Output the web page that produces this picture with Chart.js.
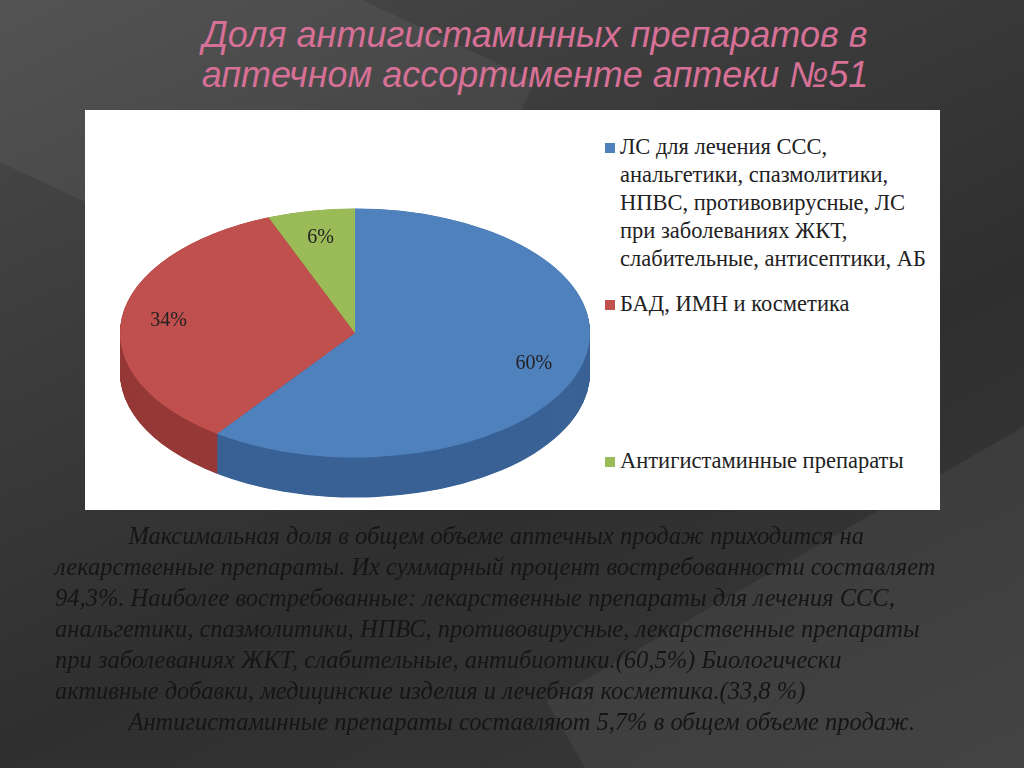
<!DOCTYPE html>
<html><head><meta charset="utf-8">
<script src="https://cdn.jsdelivr.net/npm/chart.js@4"></script>
<style>
body{margin:0;width:1024px;height:768px;overflow:hidden;position:relative;
 background:linear-gradient(155deg,#4a4a4a 0%,#3c3c3c 30%,#2f2f2f 60%,#3a3a3a 100%);font-family:"Liberation Serif",serif}
.shape{position:absolute;background:rgba(255,255,255,0.05)}
h1{position:absolute;left:0;width:1070px;top:15px;margin:0;text-align:center;font:italic 36px/40px "Liberation Sans",Arial,sans-serif;color:#d77096}
#box{position:absolute;left:85px;top:110px;width:855px;height:400px;background:#fff}
#wrap{position:absolute;left:115px;top:93px;width:480px;height:480px}
#legend{position:absolute;left:605px;top:133px;width:340px;font:22.5px/28px "Liberation Serif",serif;color:#222}
.item{position:absolute;left:0;padding-left:15px;white-space:nowrap}
.sw{position:absolute;left:0;top:10px;width:10px;height:10px}
#text{position:absolute;left:55px;top:520px;width:980px;font:italic 24.5px/31px "Liberation Serif",serif;color:#151515;white-space:nowrap}
</style></head><body>
<div class="shape" style="left:-100px;top:-60px;width:600px;height:300px;transform:rotate(25deg)"></div>
<div class="shape" style="left:600px;top:500px;width:700px;height:400px;transform:rotate(-30deg)"></div>
<h1>Доля антигистаминных препаратов в<br>аптечном ассортименте аптеки №51</h1>
<div id="box"></div>
<div id="wrap"><canvas id="c" width="480" height="480"></canvas></div>
<div id="legend"></div>
<div id="text">&nbsp;&nbsp;&nbsp;&nbsp;&nbsp;&nbsp;&nbsp;&nbsp;&nbsp;&nbsp;&nbsp;&nbsp;Максимальная доля в общем объеме аптечных продаж приходится на<br>лекарственные препараты. Их суммарный процент востребованности составляет<br>94,3%. Наиболее востребованные: лекарственные препараты для лечения ССС,<br>анальгетики, спазмолитики, НПВС, противовирусные, лекарственные препараты<br>при заболеваниях ЖКТ, слабительные, антибиотики.(60,5%) Биологически<br>активные добавки, медицинские изделия и лечебная косметика.(33,8 %)<br>&nbsp;&nbsp;&nbsp;&nbsp;&nbsp;&nbsp;&nbsp;&nbsp;&nbsp;&nbsp;&nbsp;&nbsp;Антигистаминные препараты составляют 5,7% в общем объеме продаж.</div>
<script>
const categories = [
  ["ЛС для лечения ССС,", "анальгетики, спазмолитики,", "НПВС, противовирусные, ЛС", "при заболеваниях ЖКТ,", "слабительные, антисептики, АБ"],
  ["БАД, ИМН и косметика"],
  ["Антигистаминные препараты"]
];
const values = [60, 34, 6];
const valueLabels = ["60%", "34%", "6%"];
const colors = ["#4f81bd", "#c0504d", "#9bbb59"];
const sideColors = ["#3a6296", "#963a38", "#76923f"];

// html legend
const legendTops = [0, 157, 314];
const lg = document.getElementById("legend");
categories.forEach((c, i) => {
  lg.innerHTML += '<div class="item" style="top:' + legendTops[i] + 'px"><div class="sw" style="background:' + colors[i] + '"></div>' + c.join("<br>") + '</div>';
});

const SY = 0.53, DEPTH = 40;
const pie3d = {
  id: "pie3d",
  beforeDatasetsDraw(chart) {
    const ctx = chart.ctx, meta = chart.getDatasetMeta(0);
    const cx = meta.data[0].x, cy = meta.data[0].y;
    ctx.save();
    ctx.translate(cx, cy); ctx.scale(1, SY); ctx.translate(-cx, -cy);
    for (let d = DEPTH / SY; d > 0; d -= 1) {
      ctx.save(); ctx.translate(0, d);
      meta.data.forEach((el, i) => {
        const o = el.options.backgroundColor, b = el.options.borderWidth;
        el.options.backgroundColor = sideColors[i]; el.options.borderWidth = 0;
        el.draw(ctx);
        el.options.backgroundColor = o; el.options.borderWidth = b;
      });
      ctx.restore();
    }
    meta.data.forEach(el => el.draw(ctx));
    ctx.restore();
    // labels
    ctx.font = "20px 'Liberation Serif', serif";
    ctx.fillStyle = "#222"; ctx.textAlign = "center"; ctx.textBaseline = "middle";
    const fr = [0.8, 0.8, 0.78];
    meta.data.forEach((el, i) => {
      const a = (el.startAngle + el.endAngle) / 2;
      ctx.fillText(valueLabels[i], cx + Math.cos(a) * el.outerRadius * fr[i], cy + Math.sin(a) * el.outerRadius * fr[i] * SY);
    });
    return false;
  }
};

new Chart(document.getElementById("c"), {
  type: "pie",
  data: { labels: categories.map(c => c.join(" ")), datasets: [{ data: values, backgroundColor: colors, borderWidth: 0 }] },
  options: {
    responsive: false, animation: false,
    layout: { padding: 5 },
    plugins: { legend: { display: false }, tooltip: { enabled: false } }
  },
  plugins: [pie3d]
});
</script>
</body></html>
